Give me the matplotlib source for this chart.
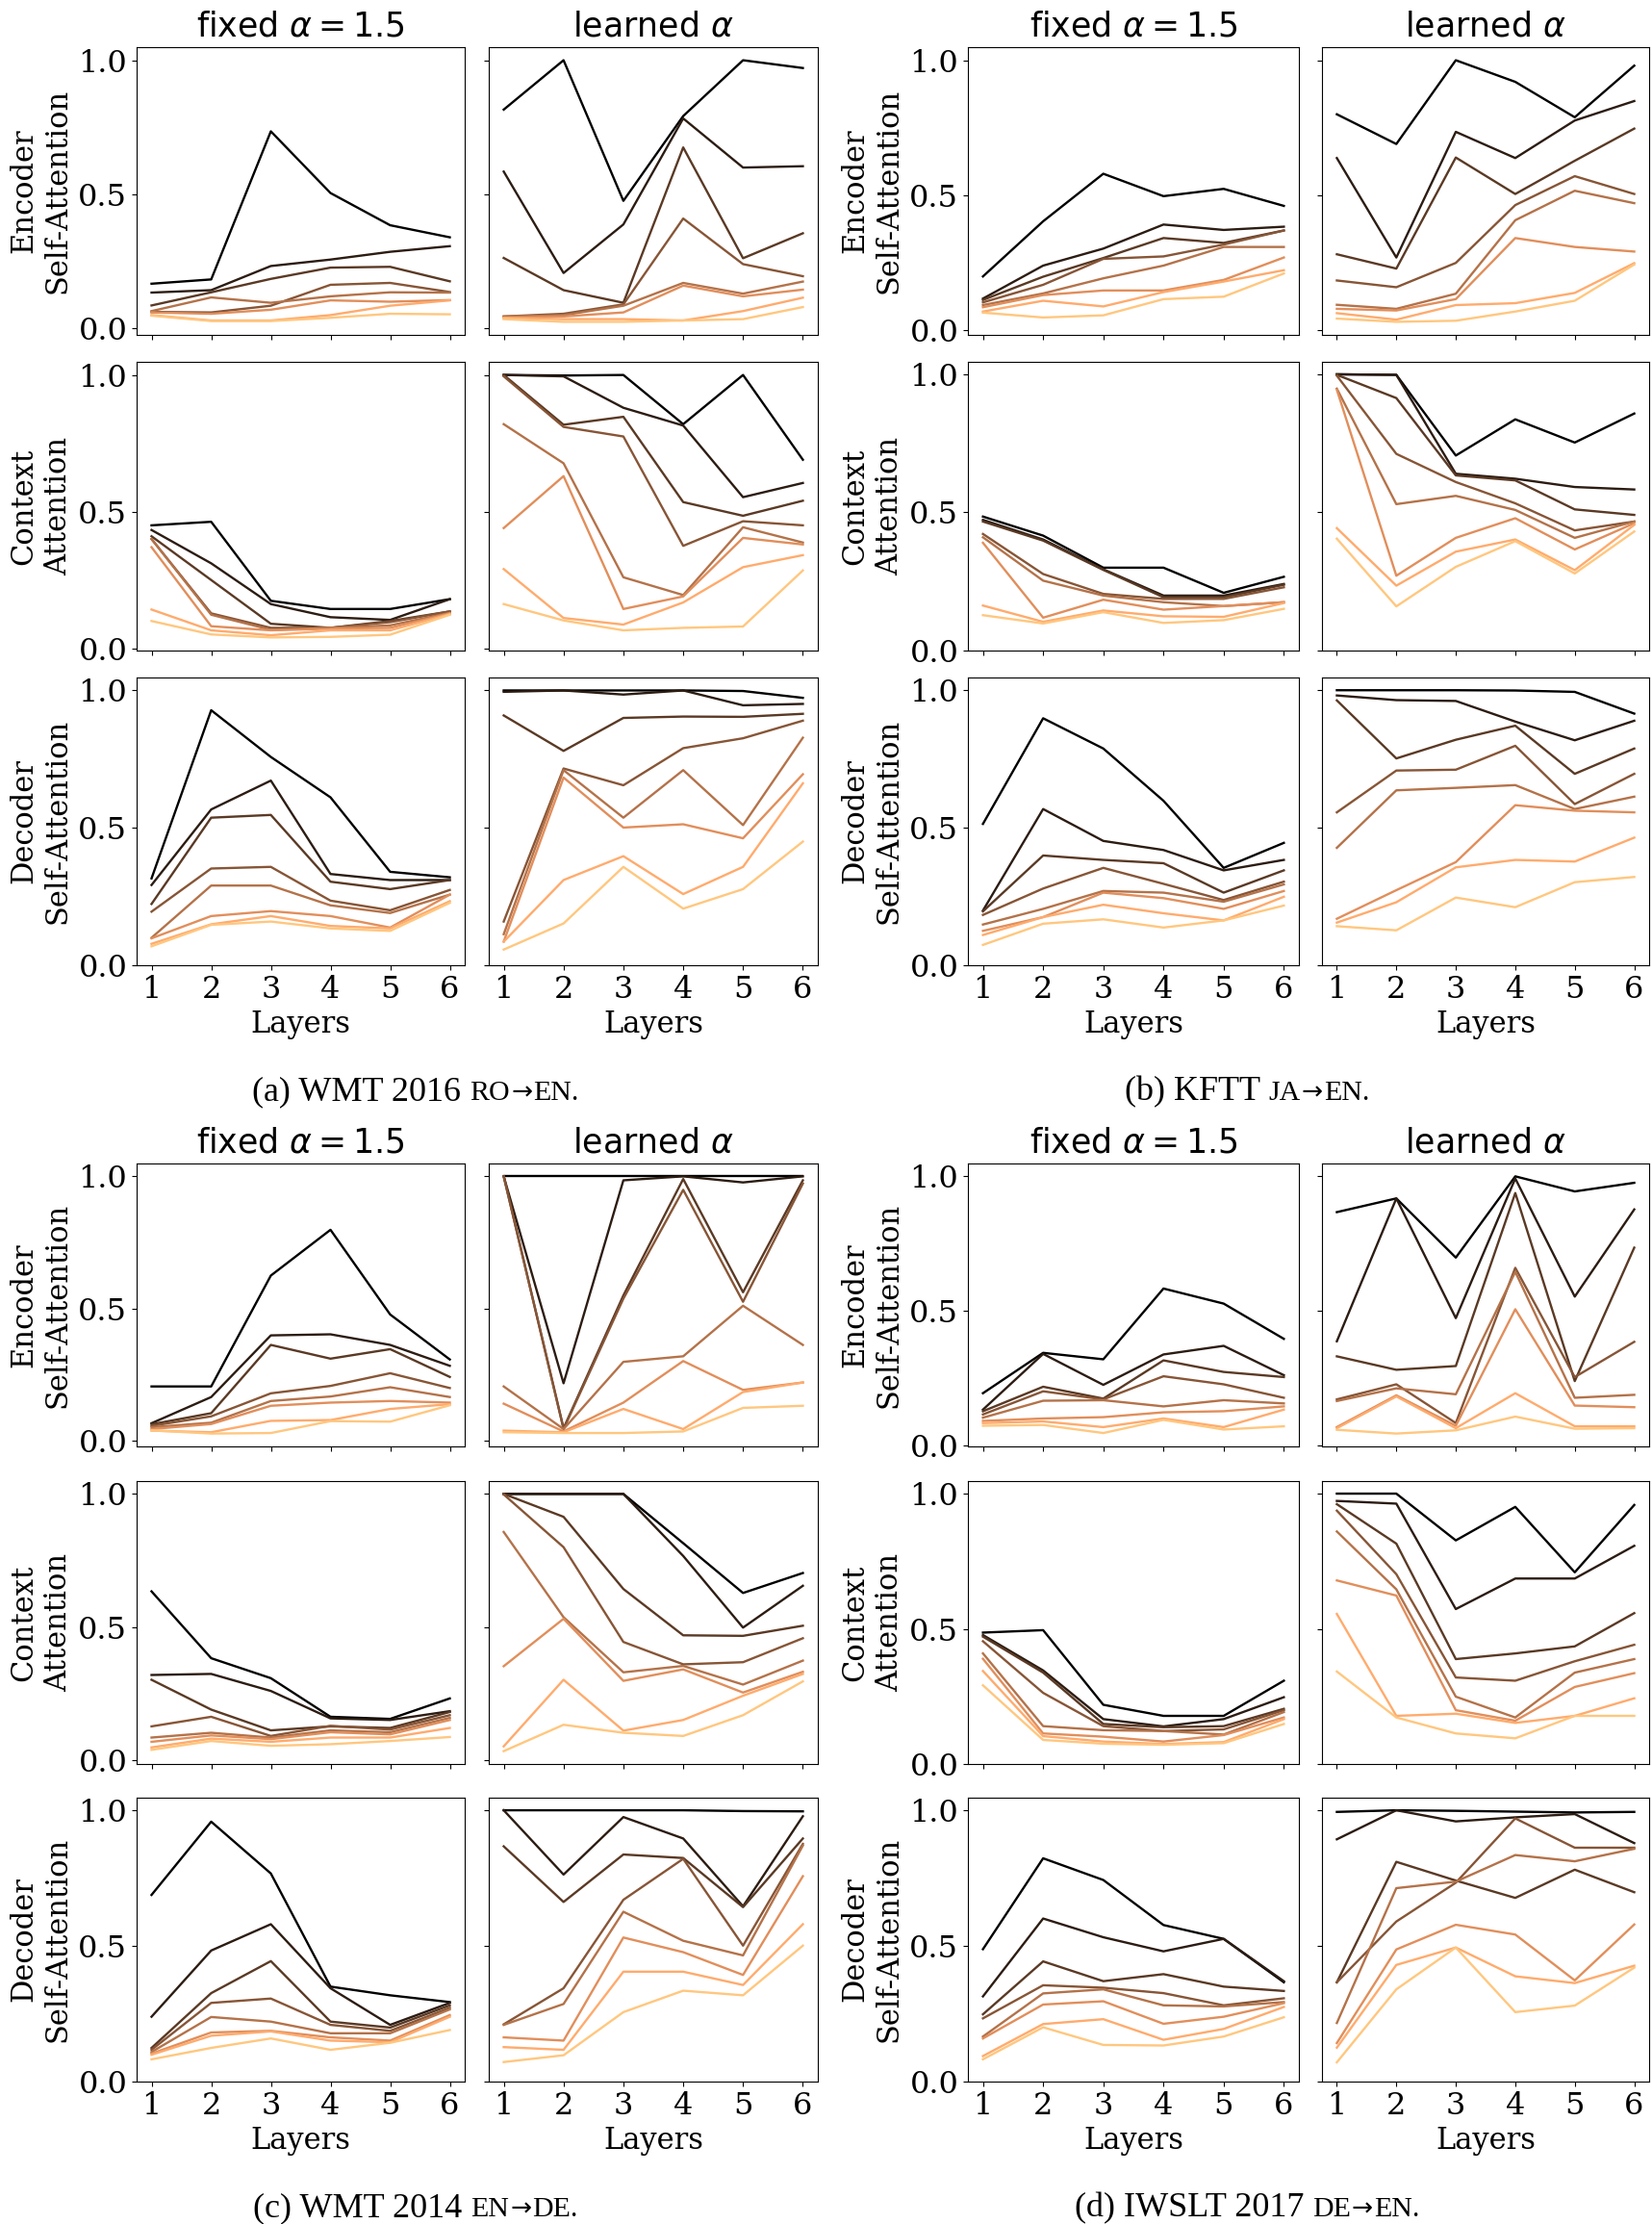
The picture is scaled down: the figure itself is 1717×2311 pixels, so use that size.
import numpy as np
import matplotlib.pyplot as plt

layers = [1, 2, 3, 4, 5, 6]
row_labels = ['Encoder\nSelf-Attention', 'Context\nAttention', 'Decoder\nSelf-Attention']
col_titles = [r'fixed $\alpha = 1.5$', r'learned $\alpha$']

# (a) WMT 2016 ro->en, one row per head (dark -> light)
a_enc_fixed = [
    [0.167, 0.183, 0.735, 0.505, 0.385, 0.340],
    [0.134, 0.143, 0.233, 0.257, 0.286, 0.307],
    [0.086, 0.135, 0.185, 0.227, 0.230, 0.176],
    [0.062, 0.060, 0.085, 0.163, 0.170, 0.136],
    [0.065, 0.116, 0.096, 0.120, 0.135, 0.134],
    [0.060, 0.055, 0.070, 0.105, 0.100, 0.106],
    [0.050, 0.030, 0.030, 0.050, 0.085, 0.105],
    [0.048, 0.028, 0.028, 0.040, 0.055, 0.053]]
a_enc_learned = [
    [0.816, 1.000, 0.476, 0.792, 1.000, 0.971],
    [0.585, 0.207, 0.388, 0.783, 0.600, 0.605],
    [0.263, 0.143, 0.096, 0.675, 0.262, 0.355],
    [0.045, 0.055, 0.090, 0.410, 0.240, 0.195],
    [0.045, 0.050, 0.085, 0.170, 0.130, 0.175],
    [0.040, 0.045, 0.060, 0.160, 0.120, 0.145],
    [0.040, 0.035, 0.035, 0.030, 0.065, 0.115],
    [0.035, 0.025, 0.025, 0.030, 0.035, 0.080]]
a_ctx_fixed = [
    [0.450, 0.463, 0.174, 0.144, 0.144, 0.180],
    [0.433, 0.311, 0.162, 0.114, 0.104, 0.180],
    [0.410, 0.250, 0.090, 0.075, 0.100, 0.135],
    [0.400, 0.128, 0.075, 0.075, 0.096, 0.135],
    [0.400, 0.123, 0.068, 0.075, 0.084, 0.130],
    [0.370, 0.081, 0.066, 0.072, 0.075, 0.128],
    [0.142, 0.066, 0.048, 0.066, 0.066, 0.125],
    [0.100, 0.051, 0.040, 0.042, 0.050, 0.123]]
a_ctx_learned = [
    [1.000, 0.998, 1.000, 0.820, 1.000, 0.690],
    [1.000, 0.995, 0.880, 0.815, 0.553, 0.605],
    [1.000, 0.818, 0.847, 0.535, 0.485, 0.540],
    [0.995, 0.810, 0.775, 0.375, 0.465, 0.450],
    [0.820, 0.677, 0.260, 0.195, 0.443, 0.387],
    [0.440, 0.630, 0.144, 0.190, 0.404, 0.380],
    [0.290, 0.111, 0.087, 0.168, 0.297, 0.341],
    [0.162, 0.102, 0.066, 0.075, 0.080, 0.285]]
a_dec_fixed = [
    [0.316, 0.928, 0.758, 0.611, 0.340, 0.320],
    [0.292, 0.567, 0.672, 0.332, 0.310, 0.310],
    [0.223, 0.537, 0.547, 0.304, 0.277, 0.310],
    [0.195, 0.352, 0.358, 0.235, 0.200, 0.274],
    [0.100, 0.290, 0.290, 0.218, 0.190, 0.257],
    [0.098, 0.179, 0.197, 0.179, 0.137, 0.257],
    [0.078, 0.149, 0.179, 0.143, 0.134, 0.233],
    [0.069, 0.147, 0.159, 0.134, 0.125, 0.227]]
a_dec_learned = [
    [1.000, 1.000, 1.000, 1.000, 0.998, 0.973],
    [0.995, 1.000, 0.985, 1.000, 0.946, 0.951],
    [0.909, 0.780, 0.900, 0.905, 0.904, 0.915],
    [0.159, 0.716, 0.655, 0.790, 0.826, 0.890],
    [0.113, 0.710, 0.537, 0.710, 0.510, 0.828],
    [0.086, 0.683, 0.501, 0.513, 0.462, 0.695],
    [0.086, 0.310, 0.397, 0.259, 0.358, 0.662],
    [0.057, 0.152, 0.358, 0.206, 0.277, 0.450]]

# (b) KFTT ja->en
b_enc_fixed = [
    [0.200, 0.404, 0.580, 0.497, 0.524, 0.461],
    [0.118, 0.240, 0.303, 0.392, 0.372, 0.384],
    [0.113, 0.199, 0.268, 0.342, 0.324, 0.370],
    [0.104, 0.169, 0.265, 0.274, 0.318, 0.370],
    [0.094, 0.137, 0.193, 0.240, 0.309, 0.309],
    [0.086, 0.131, 0.148, 0.148, 0.187, 0.270],
    [0.070, 0.110, 0.089, 0.142, 0.181, 0.223],
    [0.066, 0.048, 0.056, 0.116, 0.125, 0.211]]
b_enc_learned = [
    [0.800, 0.690, 1.000, 0.920, 0.789, 0.980],
    [0.638, 0.270, 0.735, 0.638, 0.777, 0.849],
    [0.282, 0.229, 0.640, 0.505, 0.628, 0.747],
    [0.185, 0.160, 0.250, 0.464, 0.571, 0.505],
    [0.095, 0.080, 0.136, 0.408, 0.517, 0.471],
    [0.080, 0.074, 0.116, 0.342, 0.309, 0.292],
    [0.064, 0.040, 0.094, 0.101, 0.139, 0.249],
    [0.044, 0.032, 0.036, 0.070, 0.110, 0.244]]
b_ctx_fixed = [
    [0.485, 0.416, 0.300, 0.300, 0.209, 0.267],
    [0.473, 0.402, 0.294, 0.199, 0.199, 0.241],
    [0.467, 0.398, 0.292, 0.193, 0.193, 0.238],
    [0.422, 0.277, 0.205, 0.187, 0.187, 0.229],
    [0.410, 0.253, 0.199, 0.175, 0.161, 0.175],
    [0.390, 0.119, 0.184, 0.148, 0.161, 0.175],
    [0.163, 0.104, 0.145, 0.124, 0.122, 0.172],
    [0.128, 0.098, 0.139, 0.100, 0.110, 0.151]]
b_ctx_learned = [
    [1.000, 0.998, 0.706, 0.837, 0.753, 0.858],
    [1.000, 0.998, 0.640, 0.622, 0.592, 0.583],
    [0.998, 0.914, 0.634, 0.616, 0.511, 0.491],
    [0.995, 0.712, 0.610, 0.533, 0.435, 0.467],
    [0.948, 0.530, 0.560, 0.509, 0.408, 0.467],
    [0.944, 0.271, 0.408, 0.479, 0.366, 0.461],
    [0.443, 0.235, 0.358, 0.402, 0.291, 0.455],
    [0.405, 0.160, 0.303, 0.396, 0.279, 0.431]]
b_dec_fixed = [
    [0.514, 0.898, 0.788, 0.598, 0.354, 0.445],
    [0.199, 0.568, 0.452, 0.419, 0.345, 0.383],
    [0.196, 0.399, 0.383, 0.371, 0.264, 0.345],
    [0.183, 0.279, 0.354, 0.296, 0.237, 0.304],
    [0.148, 0.205, 0.270, 0.264, 0.231, 0.294],
    [0.125, 0.175, 0.264, 0.244, 0.205, 0.270],
    [0.110, 0.175, 0.220, 0.189, 0.163, 0.249],
    [0.074, 0.151, 0.167, 0.137, 0.163, 0.217]]
b_dec_learned = [
    [1.000, 1.000, 1.000, 0.999, 0.994, 0.915],
    [0.981, 0.964, 0.961, 0.886, 0.818, 0.889],
    [0.963, 0.752, 0.820, 0.871, 0.696, 0.788],
    [0.556, 0.708, 0.711, 0.798, 0.586, 0.696],
    [0.427, 0.636, 0.645, 0.655, 0.568, 0.613],
    [0.169, 0.273, 0.375, 0.582, 0.562, 0.556],
    [0.155, 0.229, 0.356, 0.383, 0.377, 0.464],
    [0.142, 0.127, 0.246, 0.211, 0.302, 0.321]]

# (c) WMT 2014 en->de
c_enc_fixed = [
    [0.206, 0.206, 0.625, 0.798, 0.478, 0.308],
    [0.067, 0.166, 0.399, 0.403, 0.363, 0.284],
    [0.063, 0.105, 0.363, 0.311, 0.347, 0.242],
    [0.057, 0.093, 0.180, 0.208, 0.256, 0.200],
    [0.052, 0.069, 0.151, 0.168, 0.203, 0.166],
    [0.045, 0.064, 0.133, 0.145, 0.151, 0.145],
    [0.039, 0.033, 0.076, 0.079, 0.121, 0.139],
    [0.040, 0.028, 0.030, 0.075, 0.073, 0.135]]
c_enc_learned = [
    [1.000, 1.000, 1.000, 1.000, 1.000, 1.000],
    [1.000, 0.218, 0.985, 1.000, 0.977, 1.000],
    [1.000, 0.048, 0.550, 0.990, 0.562, 0.985],
    [1.000, 0.045, 0.538, 0.949, 0.526, 0.973],
    [0.206, 0.045, 0.299, 0.320, 0.511, 0.363],
    [0.141, 0.036, 0.145, 0.302, 0.193, 0.221],
    [0.039, 0.033, 0.121, 0.045, 0.185, 0.221],
    [0.033, 0.030, 0.030, 0.036, 0.125, 0.133]]
c_ctx_fixed = [
    [0.634, 0.383, 0.308, 0.163, 0.155, 0.232],
    [0.320, 0.324, 0.260, 0.157, 0.151, 0.184],
    [0.302, 0.190, 0.112, 0.127, 0.121, 0.181],
    [0.127, 0.163, 0.091, 0.129, 0.115, 0.169],
    [0.085, 0.103, 0.085, 0.112, 0.105, 0.159],
    [0.069, 0.093, 0.079, 0.105, 0.097, 0.151],
    [0.048, 0.081, 0.069, 0.085, 0.085, 0.121],
    [0.039, 0.072, 0.054, 0.060, 0.072, 0.087]]
c_ctx_learned = [
    [1.000, 1.000, 1.000, 0.815, 0.628, 0.703],
    [1.000, 1.000, 1.000, 0.767, 0.498, 0.655],
    [1.000, 0.914, 0.643, 0.469, 0.467, 0.505],
    [0.998, 0.800, 0.444, 0.360, 0.368, 0.458],
    [0.857, 0.537, 0.330, 0.354, 0.284, 0.374],
    [0.353, 0.531, 0.298, 0.341, 0.254, 0.332],
    [0.052, 0.302, 0.111, 0.151, 0.242, 0.324],
    [0.034, 0.133, 0.103, 0.091, 0.169, 0.296]]
c_dec_fixed = [
    [0.688, 0.958, 0.767, 0.350, 0.318, 0.293],
    [0.239, 0.483, 0.580, 0.344, 0.209, 0.290],
    [0.124, 0.326, 0.444, 0.221, 0.199, 0.281],
    [0.117, 0.290, 0.306, 0.209, 0.187, 0.272],
    [0.109, 0.238, 0.221, 0.178, 0.178, 0.266],
    [0.103, 0.181, 0.187, 0.163, 0.151, 0.245],
    [0.099, 0.169, 0.185, 0.151, 0.145, 0.239],
    [0.082, 0.124, 0.159, 0.117, 0.143, 0.190]]
c_dec_learned = [
    [1.000, 1.000, 1.000, 1.000, 0.997, 0.996],
    [1.000, 0.763, 0.975, 0.896, 0.646, 0.978],
    [0.867, 0.662, 0.837, 0.824, 0.643, 0.896],
    [0.211, 0.344, 0.670, 0.821, 0.501, 0.876],
    [0.209, 0.286, 0.626, 0.519, 0.465, 0.870],
    [0.163, 0.151, 0.531, 0.477, 0.393, 0.757],
    [0.127, 0.117, 0.405, 0.405, 0.356, 0.580],
    [0.072, 0.097, 0.256, 0.335, 0.318, 0.501]]

# (d) IWSLT 2017 de->en
d_enc_fixed = [
    [0.194, 0.344, 0.320, 0.583, 0.527, 0.396],
    [0.133, 0.340, 0.225, 0.338, 0.370, 0.261],
    [0.127, 0.218, 0.174, 0.316, 0.273, 0.254],
    [0.115, 0.201, 0.171, 0.257, 0.227, 0.177],
    [0.103, 0.166, 0.168, 0.145, 0.168, 0.156],
    [0.091, 0.100, 0.105, 0.123, 0.127, 0.145],
    [0.083, 0.089, 0.068, 0.100, 0.068, 0.133],
    [0.073, 0.076, 0.046, 0.095, 0.059, 0.071]]
d_enc_learned = [
    [0.867, 0.918, 0.698, 1.000, 0.944, 0.976],
    [0.387, 0.918, 0.473, 0.992, 0.553, 0.877],
    [0.331, 0.281, 0.295, 0.938, 0.239, 0.735],
    [0.171, 0.227, 0.083, 0.660, 0.254, 0.385],
    [0.165, 0.212, 0.190, 0.645, 0.177, 0.188],
    [0.068, 0.186, 0.073, 0.506, 0.148, 0.142],
    [0.064, 0.182, 0.064, 0.194, 0.071, 0.071],
    [0.058, 0.044, 0.056, 0.107, 0.062, 0.064]]
d_ctx_fixed = [
    [0.486, 0.495, 0.219, 0.178, 0.178, 0.308],
    [0.477, 0.346, 0.166, 0.139, 0.166, 0.247],
    [0.471, 0.338, 0.148, 0.136, 0.140, 0.204],
    [0.454, 0.263, 0.140, 0.122, 0.128, 0.199],
    [0.409, 0.140, 0.125, 0.122, 0.109, 0.192],
    [0.389, 0.113, 0.101, 0.083, 0.107, 0.172],
    [0.344, 0.103, 0.083, 0.074, 0.081, 0.166],
    [0.291, 0.089, 0.075, 0.071, 0.077, 0.148]]
d_ctx_learned = [
    [1.000, 1.000, 0.827, 0.951, 0.709, 0.958],
    [0.973, 0.963, 0.573, 0.686, 0.686, 0.807],
    [0.961, 0.815, 0.388, 0.409, 0.435, 0.558],
    [0.937, 0.702, 0.320, 0.308, 0.380, 0.441],
    [0.860, 0.646, 0.249, 0.172, 0.338, 0.388],
    [0.679, 0.623, 0.199, 0.160, 0.285, 0.336],
    [0.555, 0.178, 0.186, 0.152, 0.178, 0.243],
    [0.342, 0.172, 0.113, 0.095, 0.178, 0.178]]
d_dec_fixed = [
    [0.488, 0.823, 0.743, 0.577, 0.526, 0.366],
    [0.314, 0.601, 0.532, 0.480, 0.526, 0.370],
    [0.248, 0.443, 0.370, 0.396, 0.350, 0.334],
    [0.233, 0.355, 0.346, 0.326, 0.281, 0.307],
    [0.166, 0.325, 0.340, 0.281, 0.277, 0.293],
    [0.159, 0.284, 0.296, 0.213, 0.239, 0.289],
    [0.094, 0.212, 0.230, 0.154, 0.194, 0.275],
    [0.082, 0.200, 0.135, 0.133, 0.166, 0.237]]
d_dec_learned = [
    [0.994, 1.000, 0.998, 0.995, 0.992, 0.994],
    [0.893, 1.000, 0.959, 0.974, 0.986, 0.879],
    [0.366, 0.810, 0.741, 0.677, 0.781, 0.698],
    [0.366, 0.590, 0.733, 0.970, 0.862, 0.862],
    [0.216, 0.713, 0.737, 0.835, 0.812, 0.858],
    [0.142, 0.487, 0.578, 0.542, 0.373, 0.579],
    [0.125, 0.430, 0.494, 0.388, 0.363, 0.427],
    [0.071, 0.340, 0.494, 0.256, 0.280, 0.420]]

# captions: main text, then language pair in small caps
panels = [
    ('(a) WMT 2016', ('RO', 'EN'), 'left', 'top',
     [[a_enc_fixed, a_enc_learned], [a_ctx_fixed, a_ctx_learned], [a_dec_fixed, a_dec_learned]]),
    ('(b) KFTT', ('JA', 'EN'), 'right', 'top',
     [[b_enc_fixed, b_enc_learned], [b_ctx_fixed, b_ctx_learned], [b_dec_fixed, b_dec_learned]]),
    ('(c) WMT 2014', ('EN', 'DE'), 'left', 'bottom',
     [[c_enc_fixed, c_enc_learned], [c_ctx_fixed, c_ctx_learned], [c_dec_fixed, c_dec_learned]]),
    ('(d) IWSLT 2017', ('DE', 'EN'), 'right', 'bottom',
     [[d_enc_fixed, d_enc_learned], [d_ctx_fixed, d_ctx_learned], [d_dec_fixed, d_dec_learned]]),
]

plt.rcParams['font.family'] = ['DejaVu Serif']
plt.rcParams['font.size'] = 22
plt.rcParams['xtick.labelsize'] = 23
plt.rcParams['ytick.labelsize'] = 23
plt.rcParams['mathtext.fontset'] = 'dejavusans'

W, H = 1717, 2311
fig = plt.figure(figsize=(W / 100, H / 100), dpi=100)

# pixel boxes of the axes
col_px = {'left': [(142, 483), (508, 850)], 'right': [(1006, 1350), (1374, 1714)]}
row_px = {'top': [(49, 348), (376, 676), (704, 1003)],
          'bottom': [(1209, 1503), (1539, 1833), (1868, 2163)]}
caption_pos = {('left', 'top'): (432, 1143), ('right', 'top'): (1296, 1143),
               ('left', 'bottom'): (432, 2303), ('right', 'bottom'): (1296, 2303)}

colors = plt.cm.copper(np.linspace(0, 1, 8))
times = ['Liberation Serif', 'DejaVu Serif']

for main, pair, side, half, grid in panels:
    for r in range(3):
        y0, y1 = row_px[half][r]
        first = None
        for c in range(2):
            x0, x1 = col_px[side][c]
            ax = fig.add_axes([x0 / W, 1 - y1 / H, (x1 - x0) / W, (y1 - y0) / H], sharey=first)
            if first is None:
                first = ax
            for k, ys in enumerate(grid[r][c]):
                ax.plot(layers, ys, color=colors[k], lw=1.7)
            ax.set_xticks(layers)
            ax.set_yticks([0.0, 0.5, 1.0])
            if r < 2:
                ax.tick_params(labelbottom=False)
            else:
                ax.set_xlabel('Layers')
            if c == 1:
                ax.tick_params(labelleft=False)
            else:
                ax.set_ylabel(row_labels[r])
            if r == 0:
                ax.set_title(col_titles[c], fontsize=25, family='DejaVu Sans', pad=8)

    # caption laid out piece by piece
    xc, yb = caption_pos[(side, half)]
    pieces = [(main, 26, times, 9), (pair[0], 21.5, times, 1),
              ('\u2192', 19, ['DejaVu Sans'], 1), (pair[1] + '.', 21.5, times, 0)]
    rend = fig.canvas.get_renderer()
    texts, widths = [], []
    for s, size, fam, gap in pieces:
        t = fig.text(0, 1 - yb / H, s, fontsize=size, family=fam, va='baseline')
        texts.append(t)
        widths.append(t.get_window_extent(rend).width + gap)
    x = xc - sum(widths) / 2
    for t, w in zip(texts, widths):
        t.set_x(x / W)
        x += w

fig.savefig('out.png', dpi=100)
